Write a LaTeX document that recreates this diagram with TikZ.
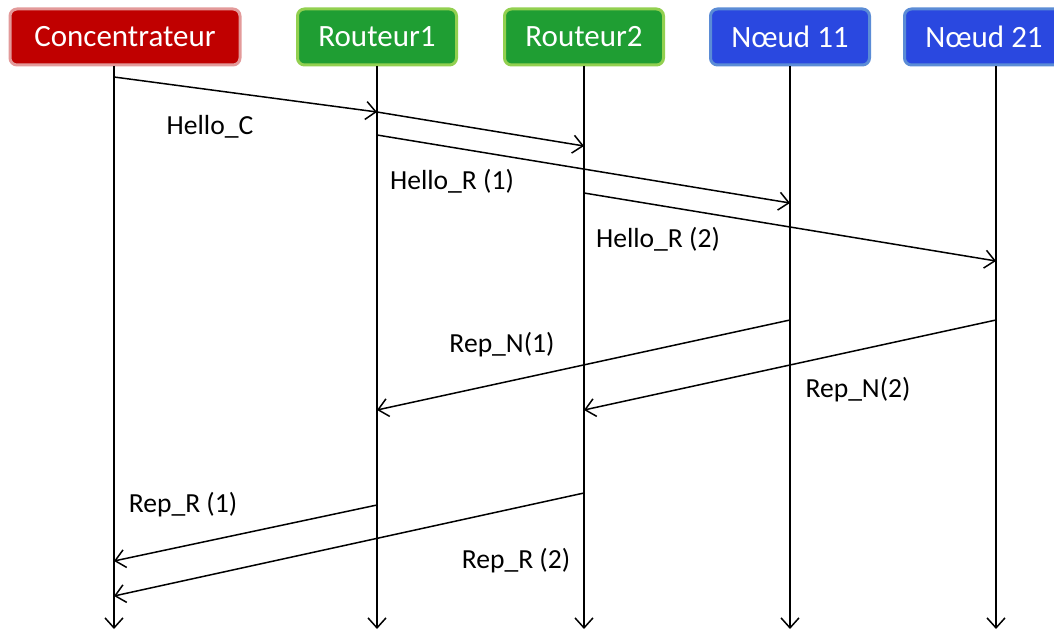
\documentclass[tikz,border=0pt]{standalone}
\usepackage{fontspec}
\setmainfont{Carlito}
\usetikzlibrary{arrows.meta}
\definecolor{myred}{HTML}{C00000}
\definecolor{myredline}{HTML}{E39A9A}
\definecolor{mygreen}{HTML}{1F9E33}
\definecolor{mygreenline}{HTML}{92D050}
\definecolor{myblue}{HTML}{2A48E0}
\definecolor{mybline}{HTML}{5B8CD6}
\tikzstyle{entity} = [draw, line width=1.5pt, rounded corners=3.5pt, text=white, minimum width=79.5pt, minimum height=28pt, inner sep=0pt, font=\fontsize{15.5}{18}\selectfont]
\tikzstyle{life} = [line width=0.75pt, ->, >={Straight Barb[length=5pt,width=9pt]}]
\tikzstyle{msg} = [line width=0.75pt, ->, >={Straight Barb[length=5pt,width=9pt]}]
\tikzstyle{lbl} = [font=\fontsize{13.8}{16}\selectfont]

\begin{document}
\begin{tikzpicture}[x=0.5pt,y=-0.5pt]
        \useasboundingbox (0,0) rectangle (1054,630);
        % Entities
        \draw (125,37) node[entity, fill=myred, draw=myredline, minimum width=115pt] (conc) {Concentrateur};
        \draw (377,37) node[entity, fill=mygreen, draw=mygreenline] (rt1) {Routeur1};
        \draw (584,37) node[entity, fill=mygreen, draw=mygreenline] (rt2) {Routeur2};
        \draw (790,37) node[entity, fill=myblue, draw=mybline] (nd11) {Nœud 11};
        \draw (984,37) node[entity, fill=myblue, draw=mybline] (nd21) {Nœud 21};
        % lifelines
        \coordinate (conc top) at (114,66);
        \coordinate (conc end) at (114,629);
        \coordinate (rt1 top) at (377,66);
        \coordinate (rt1 end) at (377,629);
        \coordinate (rt2 top) at (584,66);
        \coordinate (rt2 end) at (584,629);
        \coordinate (nd11 top) at (790,66);
        \coordinate (nd11 end) at (790,629);
        \coordinate (nd21 top) at (996,66);
        \coordinate (nd21 end) at (996,629);
        \draw[life] (conc top) -- (conc end);
        \draw[life] (rt1 top) -- (rt1 end);
        \draw[life] (rt2 top) -- (rt2 end);
        \draw[life] (nd11 top) -- (nd11 end);
        \draw[life] (nd21 top) -- (nd21 end);
        % hello
        \coordinate (h1a) at (114,77);
        \coordinate (h1b) at (377,112);
        \coordinate (h2b) at (584,146);
        \coordinate (h3a) at (377,135);
        \coordinate (h3b) at (790,203);
        \coordinate (h4a) at (584,193);
        \coordinate (h4b) at (996,261);
        \draw[msg] (h1a) -- (h1b);
        \draw[msg] (h1b) -- (h2b);
        \draw[msg] (h3a) -- (h3b);
        \draw[msg] (h4a) -- (h4b);
        \draw (210,127) node[lbl] (lhc) {Hello\_C};
        \draw (452,181) node[lbl] (lhr1) {Hello\_R (1)};
        \draw (658,239) node[lbl] (lhr2) {Hello\_R (2)};
        % replies
        \coordinate (n1a) at (790,320);
        \coordinate (n1b) at (377,410);
        \coordinate (n2a) at (996,320);
        \coordinate (n2b) at (584,410);
        \coordinate (r1a) at (377,505);
        \coordinate (r1b) at (114,561);
        \coordinate (r2a) at (584,493);
        \coordinate (r2b) at (114,596);
        \draw[msg] (n1a) -- (n1b);
        \draw[msg] (n2a) -- (n2b);
        \draw[msg] (r1a) -- (r1b);
        \draw[msg] (r2a) -- (r2b);
        \draw (502,345) node[lbl] (lrn1) {Rep\_N(1)};
        \draw (858,390) node[lbl] (lrn2) {Rep\_N(2)};
        \draw (183,505) node[lbl] (lrr1) {Rep\_R (1)};
        \draw (516,561) node[lbl] (lrr2) {Rep\_R (2)};
    \end{tikzpicture}
\end{document}
